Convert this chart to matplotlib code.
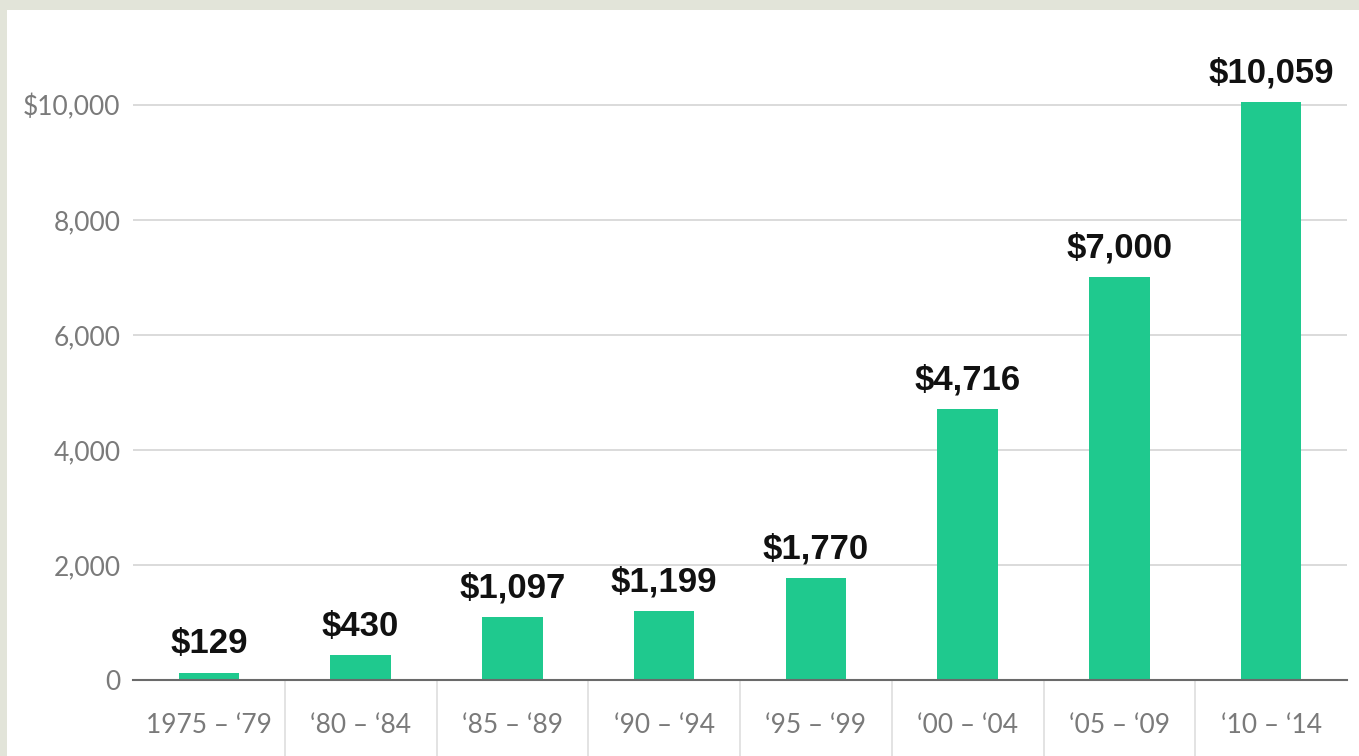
import matplotlib
matplotlib.use("Agg")
import matplotlib.pyplot as plt
from matplotlib.patches import Rectangle
import matplotlib.transforms as mtransforms

# data
periods = ["1975 – ‘79", "‘80 – ‘84", "‘85 – ‘89", "‘90 – ‘94",
           "‘95 – ‘99", "‘00 – ‘04", "‘05 – ‘09", "‘10 – ‘14"]
values = [129, 430, 1097, 1199, 1770, 4716, 7000, 10059]
yticks = [0, 2000, 4000, 6000, 8000, 10000]
ytick_labels = ["0", "2,000", "4,000", "6,000", "8,000", "$10,000"]

BAR = "#1fc98e"
GREY_TXT = "#7a7a7a"

fig = plt.figure(figsize=(13.59, 7.56), dpi=100)
fig.patch.set_facecolor("#e2e4d9")
# white card behind the chart
fig.patches.append(Rectangle((7 / 1359, 0), 1, 746 / 756, transform=fig.transFigure,
                             facecolor="white", edgecolor="none", zorder=-5))

ax = fig.add_axes([133 / 1359, 76 / 756, 1214 / 1359, 640 / 756])
ax.set_facecolor("none")

x = range(len(values))
ax.bar(x, values, width=0.4, color=BAR, zorder=3)

for xi, v in zip(x, values):
    ax.annotate("${:,}".format(v), (xi, v), xytext=(0, 9), textcoords="offset points",
                ha="center", va="bottom", fontsize=25, fontweight="bold",
                family="Liberation Sans", color="#111111")

ax.set_xlim(-0.5, len(values) - 0.5)
ax.set_ylim(0, 11130)

ax.set_yticks(yticks)
ax.set_yticklabels(ytick_labels)
ax.set_xticks(list(x))
ax.set_xticklabels(periods)
ax.tick_params(axis="y", length=0, pad=9, labelsize=19, labelcolor=GREY_TXT)
ax.tick_params(axis="x", length=0, pad=24, labelsize=19, labelcolor=GREY_TXT)
for lab in ax.get_xticklabels() + ax.get_yticklabels():
    lab.set_family("Lato")

ax.grid(axis="y", color="#d4d4d4", linewidth=1.2, zorder=1)
for s in ["top", "right", "left"]:
    ax.spines[s].set_visible(False)
ax.spines["bottom"].set_color("#6a6a6a")
ax.spines["bottom"].set_linewidth(1.5)
ax.spines["bottom"].set_zorder(4)

# separators between the period labels
trans = mtransforms.blended_transform_factory(ax.transData, ax.transAxes)
for i in range(len(values) - 1):
    ax.plot([i + 0.5, i + 0.5], [0, -0.13], transform=trans, color="#dedede",
            linewidth=1.2, clip_on=False)

fig.savefig("out.png", dpi=100, facecolor=fig.get_facecolor())
